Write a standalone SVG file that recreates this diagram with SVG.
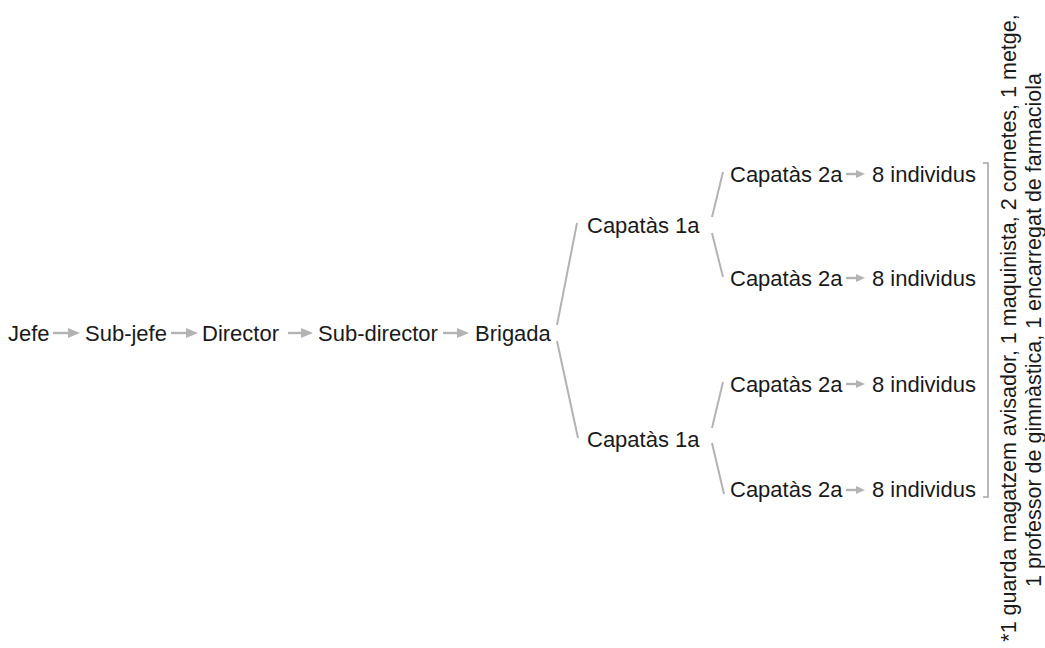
<svg xmlns="http://www.w3.org/2000/svg" width="1045" height="648" viewBox="0 0 1045 648">
<style>
text{font-family:"Liberation Sans",Arial,sans-serif;font-size:22px;fill:#1a1a1a}
.note{font-size:21.5px}
.c{stroke:#b3b3b3;stroke-width:2;fill:none}
.a{stroke:#b3b3b3;stroke-width:2.4;fill:none}
.br{stroke:#a6a6a6;stroke-width:1.6;fill:none}
</style>
<defs>
<marker id="ah" viewBox="0 0 12 10" refX="0" refY="5" markerWidth="12" markerHeight="10" markerUnits="userSpaceOnUse" orient="auto"><path d="M0,0 L12,5 L0,10 z" fill="#b3b3b3"/></marker>
<marker id="as" viewBox="0 0 9 8" refX="0" refY="4" markerWidth="9" markerHeight="8" markerUnits="userSpaceOnUse" orient="auto"><path d="M0,0 L9,4 L0,8 z" fill="#b3b3b3"/></marker>
</defs>
<rect width="1045" height="648" fill="#fff"/>
<g id="connectors">
<line class="a" x1="53" y1="333" x2="68" y2="333" marker-end="url(#ah)"/>
<line class="a" x1="171" y1="333" x2="186" y2="333" marker-end="url(#ah)"/>
<line class="a" x1="288" y1="333" x2="301" y2="333" marker-end="url(#ah)"/>
<line class="a" x1="443" y1="333" x2="457" y2="333" marker-end="url(#ah)"/>
<line class="c" x1="557" y1="325" x2="577" y2="223"/>
<line class="c" x1="557" y1="341" x2="578" y2="438"/>
<line class="c" x1="712" y1="217" x2="723" y2="172"/>
<line class="c" x1="712" y1="233" x2="723" y2="277"/>
<line class="c" x1="712" y1="428" x2="723" y2="382"/>
<line class="c" x1="712" y1="443" x2="724" y2="494"/>
<line class="a" x1="846" y1="174" x2="856" y2="174" marker-end="url(#as)"/>
<line class="a" x1="846" y1="278" x2="856" y2="278" marker-end="url(#as)"/>
<line class="a" x1="846" y1="384" x2="856" y2="384" marker-end="url(#as)"/>
<line class="a" x1="846" y1="490" x2="856" y2="490" marker-end="url(#as)"/>
<path class="br" d="M983,163 H988 V497 H983"/>
</g>
<g id="n-jefe"><text x="8" y="341">Jefe</text></g>
<g id="n-subjefe"><text x="85" y="341">Sub-jefe</text></g>
<g id="n-director"><text x="202" y="341">Director</text></g>
<g id="n-subdirector"><text x="318" y="341">Sub-director</text></g>
<g id="n-brigada"><text x="475" y="341">Brigada</text></g>
<g id="n-cap1a-1"><text x="587" y="233">Capatàs 1a</text></g>
<g id="n-cap1a-2"><text x="587" y="447">Capatàs 1a</text></g>
<g id="n-cap2a-1"><text x="730" y="182">Capatàs 2a</text></g>
<g id="n-cap2a-2"><text x="730" y="286">Capatàs 2a</text></g>
<g id="n-cap2a-3"><text x="730" y="392">Capatàs 2a</text></g>
<g id="n-cap2a-4"><text x="730" y="497">Capatàs 2a</text></g>
<g id="n-ind-1"><text x="872" y="182">8 individus</text></g>
<g id="n-ind-2"><text x="872" y="286">8 individus</text></g>
<g id="n-ind-3"><text x="872" y="392">8 individus</text></g>
<g id="n-ind-4"><text x="872" y="497">8 individus</text></g>
<g id="n-note">
<text class="note" transform="translate(1016,328) rotate(-90)" text-anchor="middle">*1 guarda magatzem avisador, 1 maquinista, 2 cornetes, 1 metge,</text>
<text class="note" transform="translate(1041,330) rotate(-90)" text-anchor="middle">1 professor de gimnàstica, 1 encarregat de farmaciola</text>
</g>
</svg>
